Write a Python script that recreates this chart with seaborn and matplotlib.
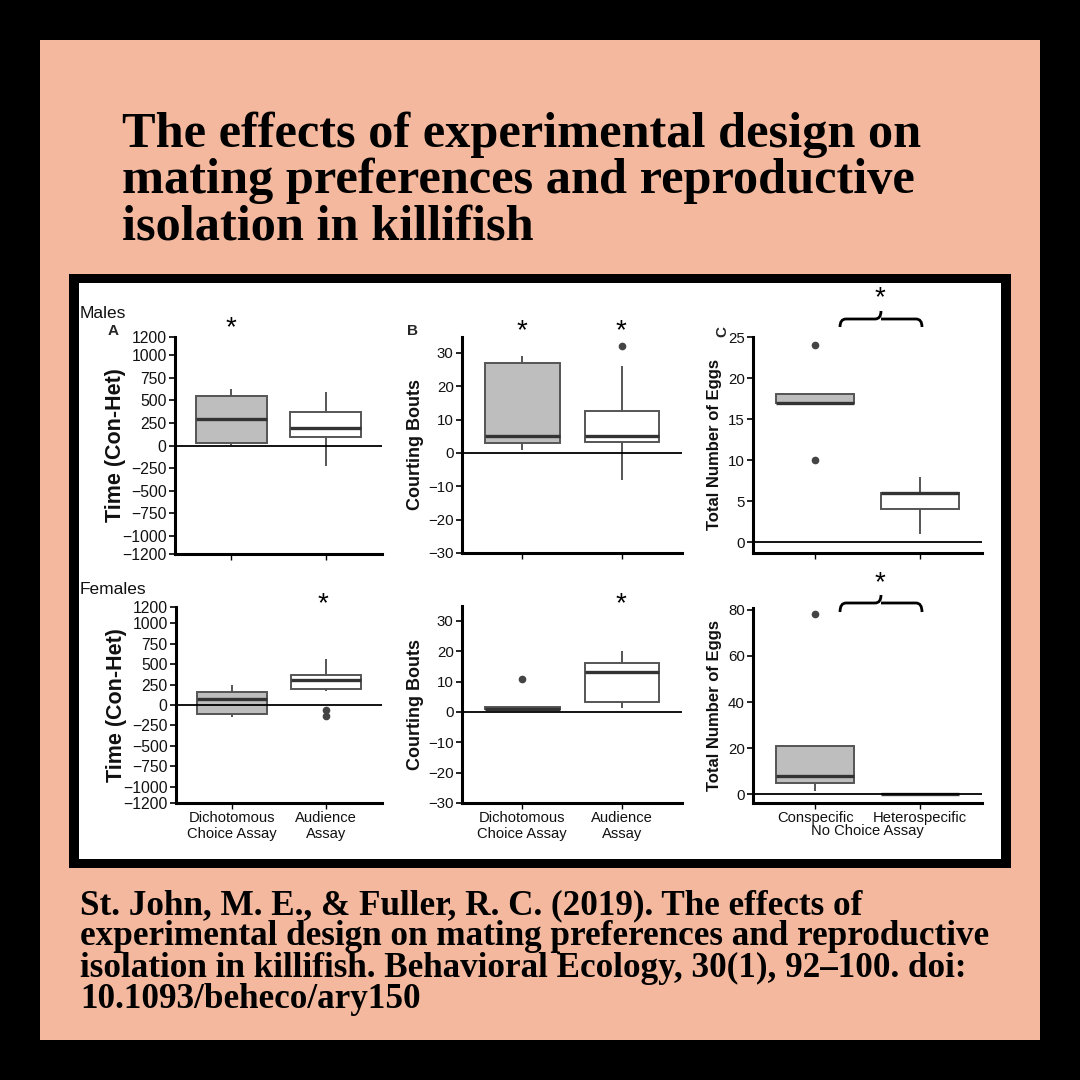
import numpy as np
import pandas as pd
import seaborn as sns
import matplotlib
matplotlib.use("Agg")
import matplotlib.pyplot as plt
from matplotlib.patches import Rectangle
from matplotlib.path import Path
from matplotlib.patches import PathPatch

# ---------------- data ----------------
title_lines = ["The effects of experimental design on",
               "mating preferences and reproductive",
               "isolation in killifish"]
citation_lines = ["St. John, M. E., & Fuller, R. C. (2019). The effects of",
                  "experimental design on mating preferences and reproductive",
                  "isolation in killifish. Behavioral Ecology, 30(1), 92\u2013100. doi:",
                  "10.1093/beheco/ary150"]

assay_groups = ["Dichotomous\nChoice Assay", "Audience\nAssay"]
egg_groups = ["Conspecific", "Heterospecific"]

# Males
male_time_dich = [10, 30, 290, 550, 620]
male_time_aud = [-230, 96, 192, 370, 590]
male_bouts_dich = [1, 3, 5, 27, 29]
male_bouts_aud = [-8, 3.2, 3.2, 4, 5, 10, 12.6, 26, 32]
male_eggs_con = [10, 17, 17, 17, 18, 18, 24]
male_eggs_het = [1, 4, 6, 6, 8]
# Females
fem_time_dich = [-147, -106, 77, 155, 241]
fem_time_aud = [-139, -65, 171, 200, 220, 280, 302, 330, 350, 363, 400, 480, 567]
fem_bouts_dich = [1, 1, 1, 1, 1, 1.5, 1.5, 2, 11]
fem_bouts_aud = [1.4, 3.2, 13, 16, 20]
fem_eggs_con = [1.3, 5, 5, 8, 21, 21, 78]
fem_eggs_het = [0, 0, 0, 0, 0]

time_ticks = [-1200, -1000, -750, -500, -250, 0, 250, 500, 750, 1000, 1200]
bouts_ticks = [-30, -20, -10, 0, 10, 20, 30]
male_egg_ticks = [0, 5, 10, 15, 20, 25]
fem_egg_ticks = [0, 20, 40, 60, 80]

# ---------------- style ----------------
W = H = 1080
PEACH = "#F3B89D"
GRAY_FILL = "#BEBEBE"
EDGE = "#555555"
sns.set_theme(style="white")
plt.rcParams["font.family"] = ["Liberation Sans", "DejaVu Sans"]

fig = plt.figure(figsize=(10.8, 10.8), dpi=100, facecolor="black")


def px_rect(x0, y0, x1, y1):
    return [x0 / W, 1 - y1 / H, (x1 - x0) / W, (y1 - y0) / H]


fig.patches.append(Rectangle((40 / W, 40 / H), 1000 / W, 1000 / H,
                             transform=fig.transFigure, facecolor=PEACH,
                             edgecolor="none", zorder=-10))
fig.patches.append(Rectangle((69 / W, 1 - 868 / H), 942 / W, 594 / H,
                             transform=fig.transFigure, facecolor="black",
                             edgecolor="none", zorder=-9))
fig.patches.append(Rectangle((79 / W, 1 - 859 / H), 922 / W, 576 / H,
                             transform=fig.transFigure, facecolor="white",
                             edgecolor="none", zorder=-8))

# title
title_base = [147, 193, 239]
for line, yb in zip(title_lines, title_base):
    fig.text(122 / W, 1 - yb / H, line, fontsize=36.3, fontweight="bold",
             family=["Liberation Serif", "DejaVu Serif"], color="black",
             va="baseline", ha="left")

cit_base = [914, 945, 977, 1008]
for line, yb in zip(citation_lines, cit_base):
    fig.text(80 / W, 1 - yb / H, line, fontsize=25.3, fontweight="bold",
             family=["Liberation Serif", "DejaVu Serif"], color="black",
             va="baseline", ha="left")


def draw_box(rect, groups, a, b, ylim, yticks, ylabel, ylabel_size,
             tick_size, show_x, labelpad):
    ax = fig.add_axes(px_rect(*rect))
    df = pd.DataFrame({"group": [groups[0]] * len(a) + [groups[1]] * len(b),
                       "value": list(a) + list(b)})
    sns.boxplot(data=df, x="group", y="value", hue="group", order=groups,
                hue_order=groups, palette={groups[0]: GRAY_FILL, groups[1]: "white"},
                width=0.75, linewidth=1.4, linecolor=EDGE, showcaps=False,
                legend=False, ax=ax,
                medianprops=dict(color="#333333", linewidth=2.4),
                flierprops=dict(marker="o", markerfacecolor="#444444",
                                markeredgecolor="#444444", markersize=4.5))
    ax.axhline(0, color="black", lw=1.3, zorder=5)
    ax.set_xlim(-0.6, 1.6)
    ax.set_ylim(*ylim)
    ax.set_yticks(yticks)
    ax.set_facecolor("none")
    for s in ["top", "right"]:
        ax.spines[s].set_visible(False)
    for s in ["left", "bottom"]:
        ax.spines[s].set_color("black")
        ax.spines[s].set_linewidth(2.2)
    ax.tick_params(axis="y", direction="out", length=4, width=1.2,
                   color="black", labelsize=tick_size, pad=2, left=True,
                   labelcolor="#111111")
    ax.tick_params(axis="x", direction="out", length=4, width=1.0,
                   color="black", labelsize=10.6, pad=1.5, bottom=True,
                   labelcolor="#111111")
    if not show_x:
        ax.set_xticklabels([])
    ax.set_xlabel("")
    ax.set_ylabel(ylabel, fontsize=ylabel_size, fontweight="bold",
                  color="#111111", labelpad=labelpad)
    return ax


ax_ma = draw_box((175, 337, 382, 554), assay_groups, male_time_dich, male_time_aud,
                 (-1200, 1200), time_ticks, "Time (Con-Het)", 15.5, 11.3, False, -3)
ax_mb = draw_box((462, 337, 682, 553), assay_groups, male_bouts_dich, male_bouts_aud,
                 (-30, 34.8), bouts_ticks, "Courting Bouts", 13, 10.8, False, 3)
ax_mc = draw_box((753, 337, 982, 553), egg_groups, male_eggs_con, male_eggs_het,
                 (-1.3, 25), male_egg_ticks, "Total Number of Eggs", 12, 10.8, False, 4)
ax_fa = draw_box((176, 607, 382, 803), assay_groups, fem_time_dich, fem_time_aud,
                 (-1200, 1200), time_ticks, "Time (Con-Het)", 15.5, 11.3, True, -3)
ax_fb = draw_box((462, 606, 682, 803), assay_groups, fem_bouts_dich, fem_bouts_aud,
                 (-30, 34.9), bouts_ticks, "Courting Bouts", 13, 10.8, True, 3)
ax_fc = draw_box((753, 608, 982, 803), egg_groups, fem_eggs_con, fem_eggs_het,
                 (-3.7, 80.7), fem_egg_ticks, "Total Number of Eggs", 12, 10.8, True, 4)
fig.text(867 / W, 1 - 831 / H, "No Choice Assay", ha="center", va="center",
         fontsize=10.6, color="#111111")

# panel annotations
fig.text(80 / W, 1 - 314 / H, "Males", fontsize=12.5, va="center", ha="left", color="#111111")
fig.text(80 / W, 1 - 589 / H, "Females", fontsize=12.5, va="center", ha="left", color="#111111")
fig.text(113 / W, 1 - 331 / H, "A", fontsize=11, fontweight="bold", va="center", ha="center")
fig.text(412 / W, 1 - 331 / H, "B", fontsize=11, fontweight="bold", va="center", ha="center")
fig.text(722 / W, 1 - 332 / H, "C", fontsize=11, fontweight="bold", va="center",
         ha="center", rotation=90)

for (x, y) in [(231, 328), (522, 331), (621, 331), (880, 298),
               (323, 604), (621, 604), (880, 583)]:
    fig.text(x / W, 1 - y / H, "*", fontsize=20, va="center", ha="center", color="black")


def brace(x0, x1, y_end, y_flat, y_peak):
    xm = (x0 + x1) / 2
    r = 6
    pts = [(x0, y_end), (x0, y_flat), (x0 + r, y_flat),
           (xm - r, y_flat), (xm, y_flat), (xm, y_peak),
           (xm, y_flat), (xm + r, y_flat),
           (x1 - r, y_flat), (x1, y_flat), (x1, y_end)]
    pts = [(px / W, 1 - py / H) for px, py in pts]
    codes = [Path.MOVETO, Path.CURVE3, Path.CURVE3,
             Path.LINETO, Path.CURVE3, Path.CURVE3,
             Path.MOVETO, Path.LINETO,
             Path.LINETO, Path.CURVE3, Path.CURVE3]
    p = Path(pts, codes)
    fig.patches.append(PathPatch(p, transform=fig.transFigure, facecolor="none",
                                 edgecolor="black", lw=2.0))


brace(840, 922, 327, 319, 311)
brace(840, 922, 612, 603, 595)

fig.savefig("out.png", dpi=100, facecolor="black")
